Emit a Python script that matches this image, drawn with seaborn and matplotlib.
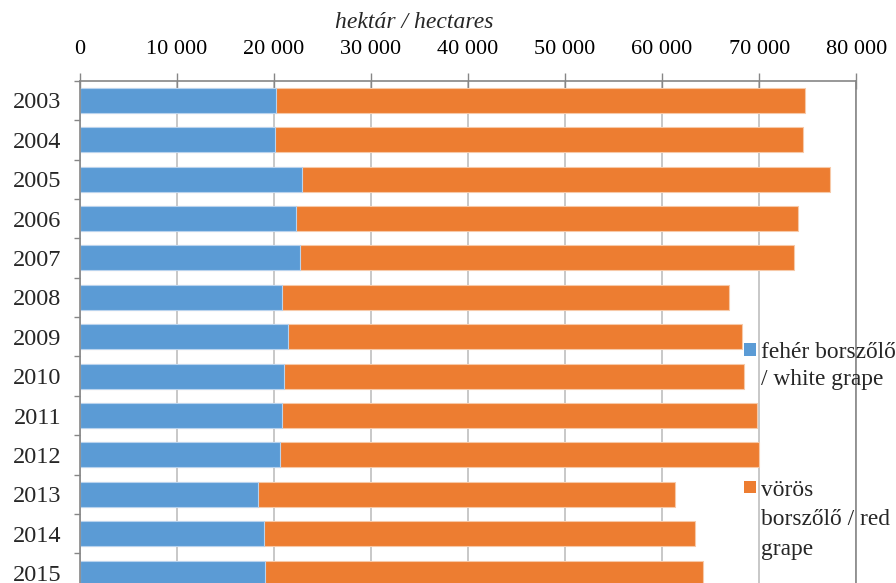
import numpy as np
import pandas as pd
import matplotlib
matplotlib.use("Agg")
import matplotlib.pyplot as plt
import seaborn as sns
from matplotlib.patches import Rectangle
from matplotlib.ticker import FixedLocator, FuncFormatter

# ---- data (hectares) ----
years = ["2003", "2004", "2005", "2006", "2007", "2008", "2009",
         "2010", "2011", "2012", "2013", "2014", "2015"]
white = [20200, 20150, 22900, 22300, 22700, 20850, 21500,
         21100, 20850, 20650, 18350, 19000, 19150]
red = [54500, 54400, 54400, 51700, 50900, 46050, 46700,
       47300, 48900, 49300, 42950, 44400, 45100]
x_ticks = [0, 10000, 20000, 30000, 40000, 50000, 60000, 70000, 80000]
axis_title = "hektár / hectares"
white_label = "fehér borszőlő\n/ white grape"
red_label = "vörös\nborszőlő / red\ngrape"

sns.set_style("white")
plt.rcParams['font.family'] = ['Liberation Serif', 'DejaVu Serif']

BLUE = "#5B9BD5"
ORANGE = "#ED7D31"
GRID = "#BFBFBF"
SPINE = "#868686"

df = pd.DataFrame({
    "year": years,
    "white": white,
    "total": [w + r for w, r in zip(white, red)],
})

W, H = 896, 583
fig = plt.figure(figsize=(W / 100, H / 100), dpi=100)
left_px, right_px, top_px, bottom_px = 79.5, 856.3, 80.8, 592.7
ax = fig.add_axes([left_px / W, 1 - bottom_px / H,
                   (right_px - left_px) / W, (bottom_px - top_px) / H])

sns.barplot(data=df, y="year", x="total", order=years, orient="h",
            color=ORANGE, saturation=1, width=0.635, ax=ax,
            edgecolor="#F7C9A8", linewidth=0.8)
sns.barplot(data=df, y="year", x="white", order=years, orient="h",
            color=BLUE, saturation=1, width=0.635, ax=ax,
            edgecolor="#B9D3EE", linewidth=0.8)

ax.set_xlim(0, 80000)
ax.set_ylim(len(years) - 0.5, -0.5)
ax.set_axisbelow(True)
ax.xaxis.grid(True, color=GRID, linewidth=1.2)
ax.yaxis.grid(False)

# x axis on top
ax.xaxis.tick_top()
ax.xaxis.set_major_locator(FixedLocator(x_ticks))
ax.xaxis.set_major_formatter(FuncFormatter(lambda v, p: f"{int(v):,}".replace(",", " ")))
ax.tick_params(axis="x", which="major", direction="inout", length=11,
               width=1, labelsize=16, pad=10.5, colors="black")
ax.tick_params(axis="x", which="major", color=SPINE)

# y axis: labels at centers, ticks at category boundaries
ax.yaxis.set_minor_locator(FixedLocator(np.arange(-0.5, len(years), 1.0)))
ax.tick_params(axis="y", which="major", length=0, labelsize=17.5, pad=13)
ax.tick_params(axis="y", which="minor", direction="out", length=4.5,
               width=1, color=SPINE, left=True)

ax.set_xlabel("")
ax.set_ylabel("")

for side in ["top", "left", "right"]:
    ax.spines[side].set_visible(True)
    ax.spines[side].set_color(SPINE)
    ax.spines[side].set_linewidth(1.2)
ax.spines["bottom"].set_visible(False)

# axis title
fig.text(414 / W, 1 - 22 / H, axis_title, ha="center", va="center",
         fontsize=17, style="italic")

# legend (manual, to the right, overlapping the plot area like the original)
def legend_item(y_sq_top, color, text, text_top, ls):
    fig.add_artist(Rectangle((743.5 / W, 1 - (y_sq_top + 12.5) / H),
                             12 / W, 12.5 / H, transform=fig.transFigure,
                             facecolor=color, edgecolor="none"))
    fig.text(760.5 / W, 1 - text_top / H, text, ha="left", va="top",
             fontsize=16.8, linespacing=ls)

legend_item(343, BLUE, white_label, 341.5, 1.42)
legend_item(480.5, ORANGE, red_label, 479.5, 1.56)

fig.savefig("out.png", dpi=100)
